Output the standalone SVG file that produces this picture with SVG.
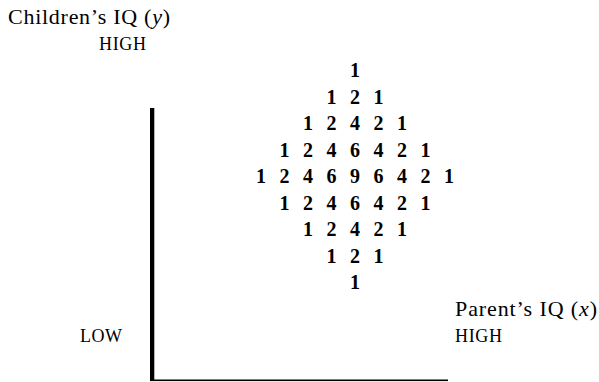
<svg xmlns="http://www.w3.org/2000/svg" width="599" height="382" viewBox="0 0 599 382">
<style>
.lbl{font-family:"Liberation Serif","Times New Roman",serif;font-size:22px;fill:#000}
.sc{font-family:"Liberation Serif","Times New Roman",serif;font-size:18px;fill:#000}
.n{font-family:"Liberation Serif","Times New Roman",serif;font-size:20px;font-weight:bold;fill:#000;text-anchor:middle}
</style>
<rect width="599" height="382" fill="#fff"/>
<g id="axes">
<rect x="150" y="108" width="4.3" height="273" fill="#000"/>
<rect x="150" y="379.5" width="298" height="1.6" fill="#000"/>
</g>
<g id="y-label">
<text class="sc" x="8" y="24" style="font-size:22px" textLength="162">Children’s IQ (<tspan font-style="italic">y</tspan>)</text>
<text class="sc" x="99" y="50" textLength="47">HIGH</text>
<text class="sc" x="80" y="342" textLength="42">LOW</text>
</g>
<g id="x-label">
<text class="lbl" x="455" y="316" textLength="142">Parent’s IQ (<tspan font-style="italic">x</tspan>)</text>
<text class="sc" x="455" y="342" textLength="47">HIGH</text>
</g>
<g id="grid">
<text class="n" y="77"><tspan x="355">1</tspan></text>
<text class="n" y="103.5"><tspan x="331.5">1</tspan><tspan x="355">2</tspan><tspan x="378.5">1</tspan></text>
<text class="n" y="130"><tspan x="308">1</tspan><tspan x="331.5">2</tspan><tspan x="355">4</tspan><tspan x="378.5">2</tspan><tspan x="402">1</tspan></text>
<text class="n" y="156.5"><tspan x="284.5">1</tspan><tspan x="308">2</tspan><tspan x="331.5">4</tspan><tspan x="355">6</tspan><tspan x="378.5">4</tspan><tspan x="402">2</tspan><tspan x="425.5">1</tspan></text>
<text class="n" y="183"><tspan x="261">1</tspan><tspan x="284.5">2</tspan><tspan x="308">4</tspan><tspan x="331.5">6</tspan><tspan x="355">9</tspan><tspan x="378.5">6</tspan><tspan x="402">4</tspan><tspan x="425.5">2</tspan><tspan x="449">1</tspan></text>
<text class="n" y="209.5"><tspan x="284.5">1</tspan><tspan x="308">2</tspan><tspan x="331.5">4</tspan><tspan x="355">6</tspan><tspan x="378.5">4</tspan><tspan x="402">2</tspan><tspan x="425.5">1</tspan></text>
<text class="n" y="236"><tspan x="308">1</tspan><tspan x="331.5">2</tspan><tspan x="355">4</tspan><tspan x="378.5">2</tspan><tspan x="402">1</tspan></text>
<text class="n" y="262.5"><tspan x="331.5">1</tspan><tspan x="355">2</tspan><tspan x="378.5">1</tspan></text>
<text class="n" y="289"><tspan x="355">1</tspan></text>
</g>
</svg>
